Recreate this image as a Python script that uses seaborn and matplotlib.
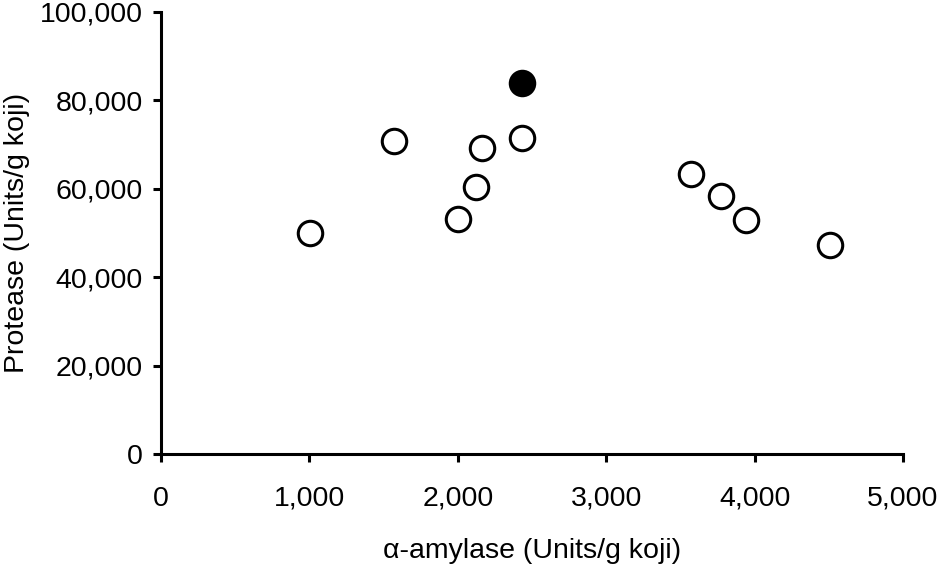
import matplotlib
matplotlib.use("Agg")
import matplotlib.pyplot as plt
import matplotlib.ticker as mticker
import seaborn as sns
import pandas as pd

# Values
amylase_open = [1004, 1570, 1999, 2123, 2165, 2435, 3569, 3774, 3940, 4510]
protease_open = [49900, 70900, 53200, 60300, 69200, 71400, 63300, 58400, 52900, 47300]
amylase_filled = [2435]
protease_filled = [84000]

open_df = pd.DataFrame({"amylase": amylase_open, "protease": protease_open})
filled_df = pd.DataFrame({"amylase": amylase_filled, "protease": protease_filled})

sns.set_style("ticks")
plt.rcParams["font.family"] = ["Liberation Sans", "DejaVu Sans"]
plt.rcParams["text.color"] = "black"
plt.rcParams["axes.labelcolor"] = "black"
plt.rcParams["xtick.color"] = "black"
plt.rcParams["ytick.color"] = "black"
plt.rcParams["axes.edgecolor"] = "black"

fig = plt.figure(figsize=(9.39, 5.68), dpi=100)
ax = fig.add_axes([0.1715, 0.2007, 0.7902, 0.7782])

sns.scatterplot(data=open_df, x="amylase", y="protease", ax=ax,
                s=310, facecolor="white", edgecolor="black", linewidth=2.2,
                zorder=3, clip_on=False)
sns.scatterplot(data=filled_df, x="amylase", y="protease", ax=ax,
                s=310, color="black", edgecolor="black", linewidth=2.2,
                zorder=3, clip_on=False)

ax.set_xlim(0, 5000)
ax.set_ylim(0, 100000)
ax.set_xticks(range(0, 5001, 1000))
ax.set_yticks(range(0, 100001, 20000))
fmt = mticker.FuncFormatter(lambda v, p: f"{int(v):,}")
ax.xaxis.set_major_formatter(fmt)
ax.yaxis.set_major_formatter(fmt)

for side in ["top", "right"]:
    ax.spines[side].set_visible(False)
for side in ["left", "bottom"]:
    ax.spines[side].set_linewidth(2.2)
ax.tick_params(axis="both", width=2.2, length=6, labelsize=20.5, direction="out")
ax.tick_params(axis="x", pad=17)
ax.tick_params(axis="y", pad=7)

ax.set_xlabel("\u03b1-amylase (Units/g koji)", fontsize=20.5, labelpad=19)
ax.set_ylabel("Protease (Units/g koji)", fontsize=20.5, labelpad=7)

fig.savefig("out.png", dpi=100)
